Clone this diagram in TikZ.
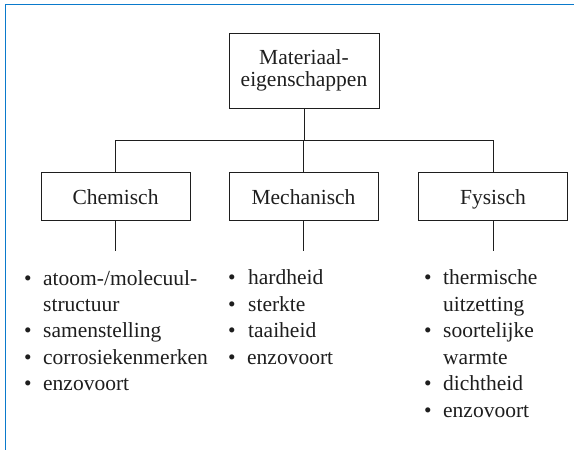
\documentclass[tikz,border=0pt]{standalone}
\usepackage{fontspec}
\setmainfont{Liberation Serif}[Ligatures=TeX]
\definecolor{framec}{RGB}{10,122,204}
\definecolor{inkc}{RGB}{30,30,30}
\begin{document}
\begin{tikzpicture}[x=1pt,y=-1pt,
  box/.style={draw=inkc, line width=0.9pt, minimum width=149pt, minimum height=48pt, inner sep=0pt, align=center, font=\fontsize{21.5}{22}\selectfont, text=inkc},
  catbox/.style={box, text height=16pt, text depth=0pt},
  conn/.style={draw=inkc, line width=0.9pt},
  frameline/.style={draw=framec, line width=1.6pt},
  item/.style={anchor=base west, inner sep=0pt, font=\fontsize{21.5}{26}\selectfont, text=inkc},
  dot/.style={anchor=base, inner sep=0pt, font=\fontsize{21.5}{26}\selectfont, text=inkc}]
\useasboundingbox (0,0) rectangle (574,450);
\draw[frameline] (5.3,451) -- (5.3,4.5) -- (575,4.5);

\node[box, minimum width=150pt, minimum height=75pt] (top) at (304,70.5) {Materiaal-\\eigenschappen};
\node[catbox] (chem) at (115.5,196) {Chemisch};
\node[catbox] (mech) at (303.5,196) {Mechanisch};
\node[catbox] (fys) at (493,196) {Fysisch};

\coordinate (bus) at (304,140);
\coordinate (chemend) at (115.5,251);
\coordinate (mechend) at (303.5,251);
\coordinate (fysend) at (493,251);

\draw[conn] (top.south) -- (bus);
\draw[conn] (chem.north) |- (fys.north |- bus) -- (fys.north);
\draw[conn] (mech.north) -- (mech.north |- bus);
\draw[conn] (chem.south) -- (chemend);
\draw[conn] (mech.south) -- (mechend);
\draw[conn] (fys.south) -- (fysend);

% Chemisch list
\node[dot] (cb1) at (28,285) {•};
\node[item] (c1) at (43,285) {atoom-/molecuul-};
\node[item] (c1b) at (43,311) {structuur};
\node[dot] (cb2) at (28,337.5) {•};
\node[item] (c2) at (43,337.5) {samenstelling};
\node[dot] (cb3) at (28,364) {•};
\node[item] (c3) at (43,364) {corrosiekenmerken};
\node[dot] (cb4) at (28,390.5) {•};
\node[item] (c4) at (43,390.5) {enzovoort};

% Mechanisch list
\node[dot] (mb1) at (232,284.5) {•};
\node[item] (m1) at (248,284.5) {hardheid};
\node[dot] (mb2) at (232,311) {•};
\node[item] (m2) at (248,311) {sterkte};
\node[dot] (mb3) at (232,337.5) {•};
\node[item] (m3) at (248,337.5) {taaiheid};
\node[dot] (mb4) at (232,364) {•};
\node[item] (m4) at (247,364) {enzovoort};

% Fysisch list
\node[dot] (fb1) at (428,284.5) {•};
\node[item] (f1) at (443,284.5) {thermische};
\node[item] (f1b) at (443,311) {uitzetting};
\node[dot] (fb2) at (428,337.5) {•};
\node[item] (f2) at (443,337.5) {soortelijke};
\node[item] (f2b) at (443,364) {warmte};
\node[dot] (fb3) at (428,390.5) {•};
\node[item] (f3) at (443,390.5) {dichtheid};
\node[dot] (fb4) at (428,417) {•};
\node[item] (f4) at (443,417) {enzovoort};
\end{tikzpicture}
\end{document}
